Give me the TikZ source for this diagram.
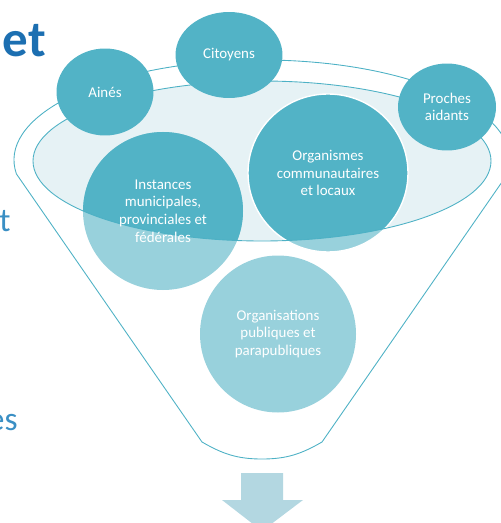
\documentclass[tikz,border=0pt]{standalone}
\usepackage{fontspec}
\setmainfont{Carlito}
\usetikzlibrary{positioning, shapes.geometric}
\pgfdeclarelayer{back}
\pgfsetlayers{back,main}
\definecolor{tealdark}{HTML}{52B3C6}
\definecolor{teallight}{HTML}{98D1DC}
\definecolor{ellfill}{HTML}{E6F2F5}
\definecolor{lineteal}{HTML}{4DB1C5}
\definecolor{arrowblue}{HTML}{B3D7E1}
\definecolor{titleblue}{HTML}{1C6FB1}
\definecolor{textblue}{HTML}{3A8FC4}

\begin{document}
\begin{tikzpicture}
    [
        x=0.02cm, y=0.02cm,
        small_node/.style={ellipse, fill=tealdark, inner sep=0mm, text=white, align=center, font=\fontsize{8.5}{10}\selectfont},
        big_node/.style={ellipse, inner sep=0mm, minimum width=3.2cm, minimum height=3.16cm, text=white, align=center, font=\fontsize{8.5}{10}\selectfont},
        funnel_line/.style={draw=lineteal, line width=0.5pt},
    ]
        \useasboundingbox (0,0) rectangle (500,-523) ;
        \clip (0,0) rectangle (500,-523) ;
        % circles
        \node[big_node] (instances) at (163,-211) {Instances\\municipales,\\provinciales et\\fédérales} ;
        \node[big_node] (organismes) at (328,-173) {Organismes\\communautaires\\et locaux} ;
        \node[big_node, minimum width=3.12cm, minimum height=3.14cm] (organisations) at (278,-334) {Organisations\\publiques et\\parapubliques} ;
        \node[small_node, minimum width=1.94cm, minimum height=1.74cm] (aines) at (105,-92) {Ainés} ;
        \node[small_node, minimum width=2.14cm, minimum height=1.72cm] (citoyens) at (229,-55) {Citoyens} ;
        \node[small_node, minimum width=1.96cm, minimum height=1.74cm] (proches) at (447,-107) {Proches\\aidants} ;
        % texts cut by the slide edge
        \node[anchor=base east, inner sep=0mm, text=titleblue, font=\fontsize{29}{29}\bfseries] (title) at (46,-57) {et} ;
        \node[anchor=base west, inner sep=0mm, text=textblue, font=\fontsize{19}{19}\selectfont] (word1) at (-1,-232) {t} ;
        \node[anchor=base east, inner sep=0mm, text=textblue, font=\fontsize{19}{19}\selectfont] (word2) at (18,-430) {es} ;
        \begin{pgfonlayer}{back}
            % funnel
            \draw[funnel_line] (16.41,-173.92) arc[start angle=188, end angle=-8, x radius=248, y radius=100]
                -- (322,-442) to[out=-150, in=0] (262,-459) to[out=180, in=-30] (202,-442) -- cycle ;
            \fill[ellfill] (262,-161) ellipse [x radius=229, y radius=80] ;
            \fill[teallight] (instances.center) ellipse [x radius=80, y radius=79] ;
            \fill[teallight] (organismes.center) ellipse [x radius=80, y radius=79] ;
            \fill[teallight] (organisations.center) ellipse [x radius=78, y radius=78.5] ;
            \begin{scope}
                \clip (262,-161) ellipse [x radius=229, y radius=80] ;
                \fill[tealdark] (instances.center) ellipse [x radius=80, y radius=79] ;
                \fill[tealdark] (organismes.center) ellipse [x radius=80, y radius=79] ;
            \end{scope}
            \draw[white, line width=0.8pt] (organismes.center) ellipse [x radius=80, y radius=79] ;
            \draw[funnel_line] (262,-161) ellipse [x radius=229, y radius=80] ;
            % arrow
            \fill[arrowblue] (241,-473) -- (283,-473) -- (283,-500) -- (303,-500) -- (262,-531) -- (222,-500) -- (241,-500) -- cycle ;
        \end{pgfonlayer}
    \end{tikzpicture}
\end{document}
